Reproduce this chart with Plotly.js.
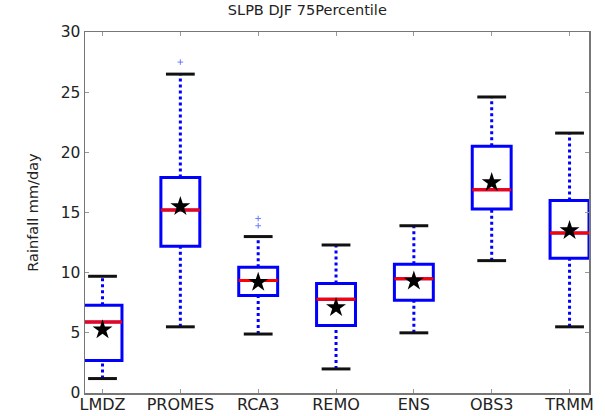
<!DOCTYPE html>
<html>
<head>
<meta charset="utf-8">
<script src="https://cdn.plot.ly/plotly-3.0.1.min.js"></script>
<style>html,body{margin:0;padding:0;background:#fff;}#chart{width:605px;height:416px;}</style>
</head>
<body>
<div id="chart"></div>
<script>
var categories = ["LMDZ", "PROMES", "RCA3", "REMO", "ENS", "OBS3", "TRMM"];
var lowerWhisker = [1.2, 5.5, 4.9, 2.0, 5.0, 11.0, 5.5];
var q1Values = [2.7, 12.2, 8.1, 5.6, 7.7, 15.3, 11.2];
var medianValues = [5.9, 15.2, 9.35, 7.8, 9.5, 16.9, 13.3];
var q3Values = [7.3, 17.9, 10.45, 9.1, 10.7, 20.5, 16.0];
var upperWhisker = [9.7, 26.5, 13.0, 12.3, 13.9, 24.6, 21.6];
var meanValues = [5.25, 15.5, 9.2, 7.1, 9.3, 17.5, 13.5];
var flierCategory = ["PROMES", "RCA3", "RCA3"];
var flierValues = [27.5, 14.5, 13.9];

var pos = categories.map(function(c, i){ return i + 1; });
var boxHalf = 0.25, capHalf = 0.185;

function vsegs(lo, hi){
  var xs = [], ys = [];
  pos.forEach(function(p, i){ xs.push(p, p, null); ys.push(lo[i], hi[i], null); });
  return {x: xs, y: ys};
}
function hsegs(vals, half){
  var xs = [], ys = [];
  pos.forEach(function(p, i){ xs.push(p - half, p + half, null); ys.push(vals[i], vals[i], null); });
  return {x: xs, y: ys};
}

var traces = [];
var wLow = vsegs(lowerWhisker, q1Values);
var wHigh = vsegs(q3Values, upperWhisker);
traces.push({type:'scatter', mode:'lines', x:wLow.x.concat(wHigh.x), y:wLow.y.concat(wHigh.y),
  line:{color:'#0000ff', width:3, dash:'dot'}, hoverinfo:'skip', showlegend:false});
var capL = hsegs(lowerWhisker, capHalf);
var capH = hsegs(upperWhisker, capHalf);
traces.push({type:'scatter', mode:'lines', x:capL.x.concat(capH.x), y:capL.y.concat(capH.y),
  line:{color:'#111', width:3}, hoverinfo:'skip', showlegend:false});
traces.push({type:'box', x:pos, q1:q1Values, median:medianValues, q3:q3Values,
  lowerfence:q1Values, upperfence:q3Values, width:0.5, whiskerwidth:0,
  line:{color:'#0000ff', width:3}, fillcolor:'rgba(255,255,255,0)', boxpoints:false,
  hoverinfo:'skip', showlegend:false});
var med = hsegs(medianValues, boxHalf);
traces.push({type:'scatter', mode:'lines', x:med.x, y:med.y,
  line:{color:'#ff0000', width:3}, hoverinfo:'skip', showlegend:false});
traces.push({type:'scatter', mode:'markers', x:pos, y:meanValues,
  marker:{symbol:'star', size:15, color:'#000'}, hoverinfo:'skip', showlegend:false});
traces.push({type:'scatter', mode:'markers',
  x:flierCategory.map(function(c){return categories.indexOf(c) + 1;}), y:flierValues,
  marker:{symbol:'cross-thin', size:4, line:{color:'#6b7bff', width:1}}, hoverinfo:'skip', showlegend:false});

var layout = {
  width:605, height:416,
  margin:{l:85, r:16, t:32, b:23},
  paper_bgcolor:'#fff', plot_bgcolor:'#fff',
  font:{family:'DejaVu Sans', color:'#222', size:14},
  title:{text:'SLPB DJF 75Percentile', x:0.508, xanchor:'center', y:0.988, yanchor:'top', font:{size:14.5, color:'#222'}},
  xaxis:{range:[0.775, 7.25], tickvals:pos, ticktext:categories, showgrid:false, zeroline:false,
    showline:true, linecolor:'#777', linewidth:1.5, mirror:'ticks', ticks:'inside', ticklen:4, tickcolor:'#999',
    tickfont:{size:16, color:'#222'}, ticklabelstandoff:-4},
  yaxis:{range:[0, 30], tickvals:[0,5,10,15,20,25,30], showgrid:false, zeroline:false,
    showline:true, linecolor:'#777', linewidth:1.5, mirror:'ticks', ticks:'inside', ticklen:4, tickcolor:'#999',
    tickfont:{size:15.5, color:'#222'},
    title:{text:'Rainfall mm/day', font:{size:14.5, color:'#222'}, standoff:18}}
};
Plotly.newPlot('chart', traces, layout, {staticPlot:true, displayModeBar:false});
</script>
</body>
</html>
